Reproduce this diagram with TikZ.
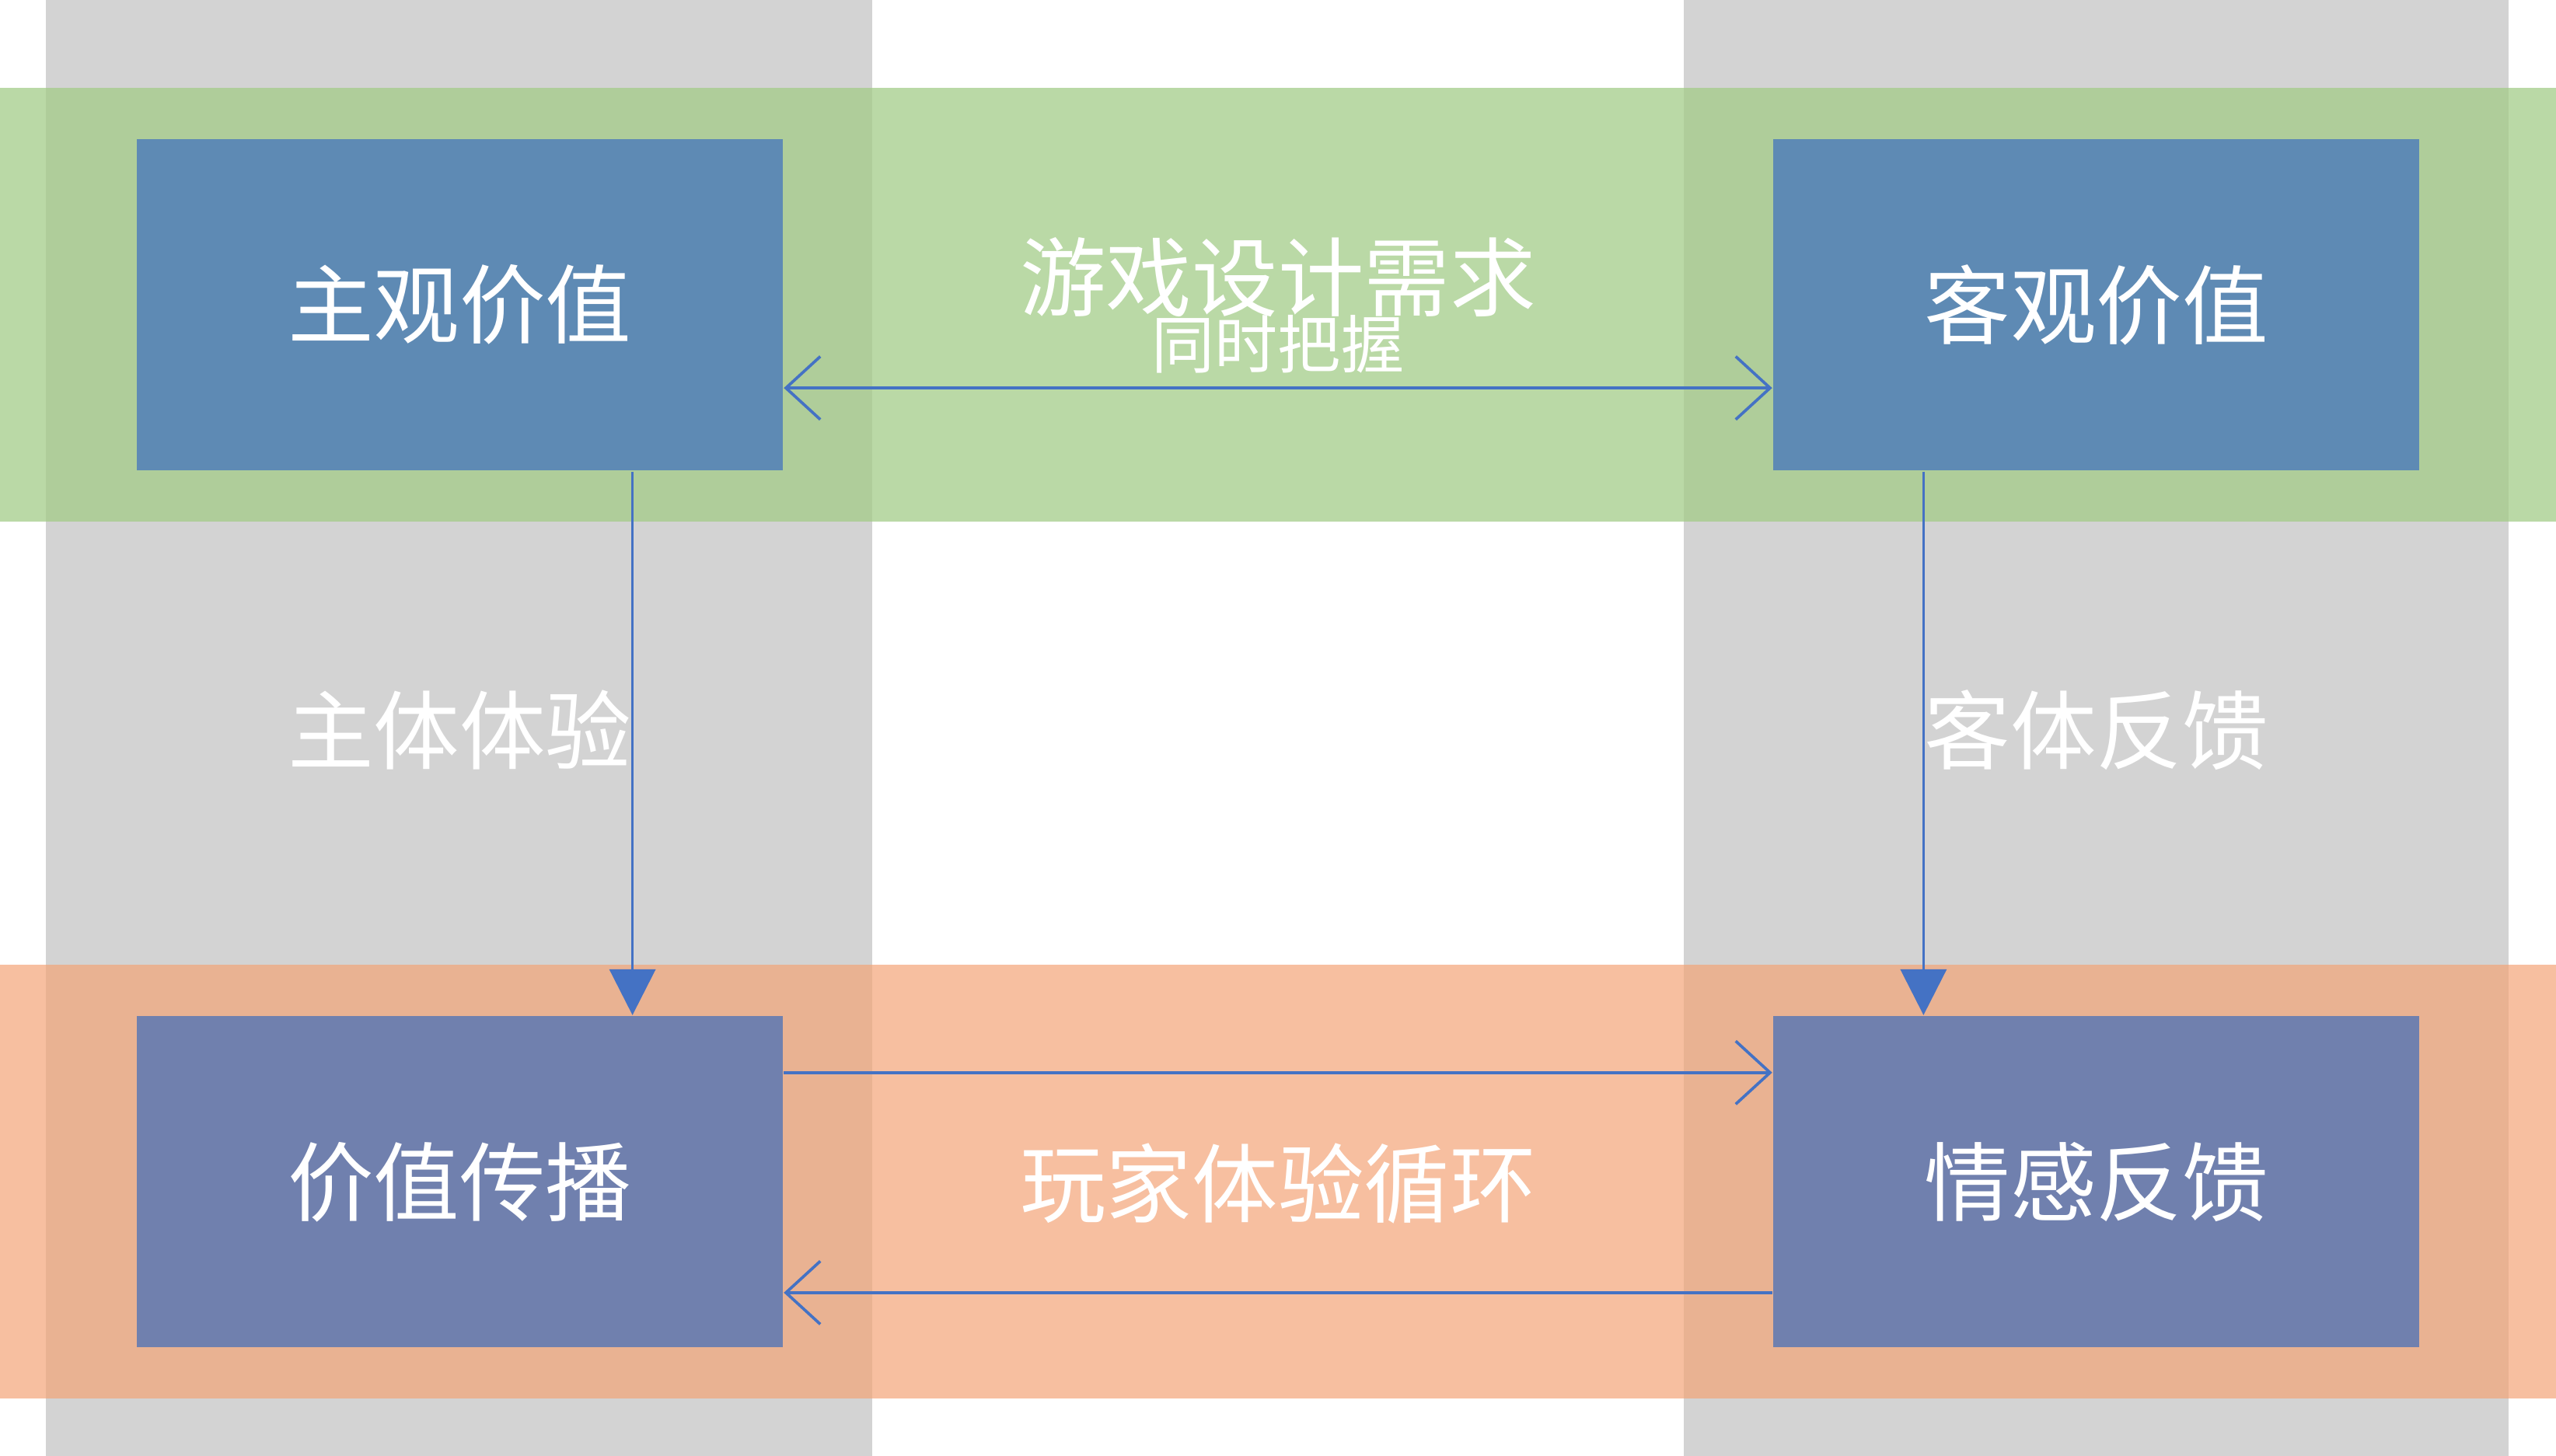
\documentclass[tikz,border=0pt]{standalone}
\usepackage{fontspec}
\setmainfont{Noto Sans CJK SC}
\usetikzlibrary{arrows.meta}
\definecolor{colgray}{HTML}{D3D3D3}
\definecolor{bandgreen}{HTML}{A3CC88}
\definecolor{bandorange}{HTML}{F3A477}
\definecolor{boxblue}{HTML}{5E8AB4}
\definecolor{boxpurple}{HTML}{7080AE}
\definecolor{linkblue}{HTML}{4472C4}
\begin{document}
\begin{tikzpicture}[x=0.01cm,y=-0.01cm,
    valbox/.style={minimum width=3.96cm, minimum height=2.03cm, inner sep=0pt,
        text=white, font=\fontsize{15}{18}\selectfont},
    bandtext/.style={text=white, font=\fontsize{15}{18}\selectfont},
    subtext/.style={text=white, font=\fontsize{11}{13}\selectfont},
    link/.style={draw=linkblue, line width=0.5pt}]
    \useasboundingbox (0,0) rectangle (1568,893);

    % columns and bands
    \fill[colgray] (28,0) rectangle (535,893);
    \fill[colgray] (1033,0) rectangle (1539,893);
    \fill[bandgreen, opacity=0.75] (0,54) rectangle (1568,320);
    \fill[bandorange, opacity=0.7] (0,592) rectangle (1568,858);

    % boxes
    \node[valbox, fill=boxblue] (subj) at (282,187) {主观价值};
    \node[valbox, fill=boxblue] (obj) at (1286,187) {客观价值};
    \node[valbox, fill=boxpurple] (spread) at (282,725) {价值传播};
    \node[valbox, fill=boxpurple] (emot) at (1286,725) {情感反馈};

    % labels
    \node[bandtext] (need) at (784,170) {游戏设计需求};
    \node[subtext] (grasp) at (784,211) {同时把握};
    \node[bandtext] (exper) at (282,448) {主体体验};
    \node[bandtext] (feed) at (1286,448) {客体反馈};
    \node[bandtext] (loop) at (784,726) {玩家体验循环};

    % connectors
    \draw[link, {Straight Barb[length=6pt,width=11pt]}-{Straight Barb[length=6pt,width=11pt]}]
        (subj.east |- 0,238) -- (obj.west |- 0,238);
    \draw[link, -{Triangle[length=8pt,width=8pt]}] (subj.south -| 388,0) -- (spread.north -| 388,0);
    \draw[link, -{Triangle[length=8pt,width=8pt]}] (obj.south -| 1180,0) -- (emot.north -| 1180,0);
    \draw[link, -{Straight Barb[length=6pt,width=11pt]}] (spread.east |- 0,658) -- (emot.west |- 0,658);
    \draw[link, -{Straight Barb[length=6pt,width=11pt]}] (emot.west |- 0,793) -- (spread.east |- 0,793);
\end{tikzpicture}
\end{document}
